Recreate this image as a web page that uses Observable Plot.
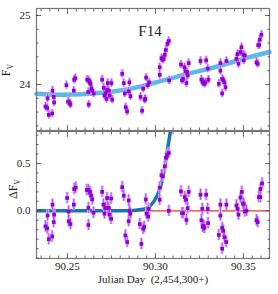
<!DOCTYPE html>
<html><head><meta charset="utf-8">
<script src="https://cdn.jsdelivr.net/npm/d3@7"></script>
<script src="https://cdn.jsdelivr.net/npm/@observablehq/plot@0.6"></script>
<style>
body{margin:0;background:#fff}
#chart{position:relative;width:278px;height:294px;overflow:hidden}
#chart svg{position:absolute;left:0}
</style></head><body><div id="chart"></div>
<script>
// ---- data ----
const topX = [90.2375,90.2385,90.2387,90.2394,90.2413,90.2415,90.2422,90.2424,
  90.2494,90.2504,90.2513,90.2517,90.2536,90.2538,90.2545,
  90.2612,90.2618,90.2621,90.2621,90.2627,90.2631,90.2636,90.2640,90.2649,
  90.2697,90.2706,90.2710,90.2716,90.2722,90.2726,90.2729,90.2735,90.2740,90.2750,90.2754,
  90.2811,90.2820,90.2826,90.2831,90.2839,90.2848,90.2852,90.2858,
  90.2915,90.2924,90.2930,90.2938,90.2943,90.2947,90.2956,90.2964,
  90.3024,90.3024,90.3034,90.3040,90.3047,90.3053,90.3059,90.3068,90.3076,90.3078,
  90.3145,90.3151,90.3157,90.3165,90.3170,90.3176,90.3180,90.3183,90.3189,
  90.3256,90.3261,90.3268,90.3274,90.3278,90.3284,90.3288,90.3297,90.3301,
  90.3360,90.3369,90.3369,90.3379,90.3379,90.3385,90.3392,90.3398,90.3403,
  90.3460,90.3466,90.3472,90.3483,90.3489,90.3499,90.3502,90.3508,
  90.3574,90.3581,90.3584,90.3589,90.3593,90.3602];
const topF = [23.68,23.66,23.80,23.56,23.58,23.91,23.82,23.74,
  23.99,23.75,23.73,23.71,23.91,24.07,24.09,
  24.07,23.89,24.06,23.71,24.03,24.01,23.94,23.91,23.87,
  24.07,23.95,23.84,23.87,23.79,23.92,24.02,23.91,23.84,24.02,23.78,
  24.155,24.02,23.87,23.67,23.61,23.90,24.03,23.83,
  23.82,23.62,23.94,23.78,23.79,24.10,23.99,24.03,
  24.25,24.14,24.38,24.36,24.37,24.43,24.50,24.59,24.63,24.06,
  24.29,24.06,24.08,24.25,24.19,24.02,24.18,24.13,24.31,
  24.34,24.07,24.03,24.03,24.01,24.03,24.35,24.23,24.07,
  24.01,24.20,24.31,24.08,23.87,24.06,24.03,23.96,24.34,
  24.37,24.44,24.30,24.47,24.54,24.43,24.35,24.42,
  24.32,24.30,24.57,24.57,24.65,24.72];

const botX = [90.2375,90.2385,90.2387,90.2394,90.2413,90.2415,90.2422,90.2424,
  90.2498,90.2507,90.2507,90.2517,90.2536,90.2538,90.2547,
  90.2610,90.2619,90.2628,90.2634,90.2641,90.2619,90.2619,90.2648,
  90.2697,90.2704,90.2710,90.2716,90.2725,90.2729,90.2735,90.2738,90.2748,90.2748,
  90.2811,90.2820,90.2829,90.2839,90.2848,90.2852,90.2848,90.2857,
  90.2911,90.2920,90.2930,90.2936,90.2945,90.2949,90.2959,90.2962,
  90.3024,90.3024,90.3034,90.3041,90.3053,90.3060,90.3066,90.3076,90.3076,
  90.3145,90.3151,90.3157,90.3166,90.3174,90.3176,90.3183,90.3189,
  90.3256,90.3261,90.3266,90.3268,90.3274,90.3278,90.3288,90.3297,90.3299,
  90.3360,90.3369,90.3369,90.3379,90.3385,90.3379,90.3392,90.3402,90.3403,
  90.3460,90.3467,90.3472,90.3483,90.3491,90.3497,90.3502,90.3508,90.3517,
  90.3574,90.3581,90.3587,90.3596,90.3596,90.3606];
const botDF = [-0.165,-0.185,-0.05,-0.30,-0.27,0.065,-0.12,-0.04,
  0.135,-0.007,-0.11,-0.14,0.065,0.23,0.245,
  0.22,0.22,0.20,0.16,0.12,0.03,-0.15,-0.02,
  0.20,0.065,-0.03,0.03,0.135,0.03,0.03,-0.04,0.13,-0.085,
  0.25,0.16,-0.26,-0.33,0.11,0.0,-0.11,-0.03,
  -0.14,-0.35,-0.19,-0.17,0.12,-0.03,-0.06,0.02,
  0.245,0.117,0.375,0.365,0.47,0.56,0.59,0.61,0.0,
  0.205,-0.025,-0.025,0.145,0.117,-0.096,0.028,0.20,
  0.17,-0.10,0.02,-0.17,-0.16,-0.18,0.17,0.02,-0.13,
  -0.255,0.065,-0.05,-0.18,-0.21,-0.40,-0.28,-0.33,0.065,
  0.056,0.02,-0.04,0.14,0.20,0.075,0.075,-0.007,0.0,
  -0.10,-0.12,0.145,0.145,0.23,0.29];
const errBar = 0.06;

const fitX = [90.2324,90.240,90.248,90.258,90.267,90.277,90.286,90.2972,90.3161,90.3351,90.354,90.3648];
const fitF = [23.865,23.855,23.85,23.857,23.875,23.903,23.94,24.01,24.14,24.26,24.40,24.47];

const expX = [90.2324,90.275,90.2877,90.292,90.2953,90.2991,90.3019,90.3038,90.3057,90.3070,90.3085,90.3095];
const expDF = [0,0,0.004,0.013,0.03,0.10,0.20,0.32,0.51,0.67,0.84,0.98];

const xMajorTicks = [90.25,90.30,90.35];
const xMinorTicks = [90.235,90.24,90.245,90.255,90.26,90.265,90.27,90.275,90.28,90.285,90.29,90.295,
  90.305,90.31,90.315,90.32,90.325,90.33,90.335,90.34,90.345,90.355,90.36];
const topYMajor = [24,25];
const topYMinor = [23.4,23.6,23.8,24.2,24.4,24.6,24.8,25.0];
const botYMajor = [0.0,0.5];
const botYMinor = [-0.5,-0.4,-0.3,-0.2,-0.1,0.1,0.2,0.3,0.4,0.6,0.7,0.8];

const panelLabel = "F14";
const xTitle = "Julian Day  (2,454,300+)";

// ---- build ----
const topPts = topX.map((x,i)=>({x, y: topF[i]}));
const botPts = botX.map((x,i)=>({x, y: botDF[i]}));
const fitPts = fitX.map((x,i)=>({x, y: fitF[i]}));
const expPts = expX.map((x,i)=>({x, y: expDF[i]}));

const font = "'Liberation Serif','Times New Roman',serif";
const xDomain = [90.2324, 90.3648];
const tickColor = "#444";

function edgeTicks(yMinor, yMajor) {
  const st = {stroke: tickColor, strokeWidth: 0.8, tickFormat: () => "", label: null};
  return [
    Plot.axisX({anchor: "bottom", ticks: xMinorTicks, tickSize: -2.5, ...st}),
    Plot.axisX({anchor: "bottom", ticks: xMajorTicks, tickSize: -5, ...st}),
    Plot.axisX({anchor: "top", ticks: xMinorTicks, tickSize: -2.5, ...st}),
    Plot.axisX({anchor: "top", ticks: xMajorTicks, tickSize: -5, ...st}),
    Plot.axisY({anchor: "left", ticks: yMinor, tickSize: -2.5, ...st}),
    Plot.axisY({anchor: "left", ticks: yMajor, tickSize: -5, ...st}),
    Plot.axisY({anchor: "right", ticks: yMinor, tickSize: -2.5, ...st}),
    Plot.axisY({anchor: "right", ticks: yMajor, tickSize: -5, ...st})
  ];
}

function points(data) {
  return [
    Plot.ruleX(data, {x: "x", y1: d => d.y - errBar, y2: d => d.y + errBar, stroke: "#dcb8f6", strokeWidth: 3}),
    Plot.ruleX(data, {x: "x", y1: d => d.y - errBar, y2: d => d.y + errBar, stroke: "#a33bea", strokeWidth: 1, strokeOpacity: 0.8}),
    Plot.dot(data, {x: "x", y: "y", r: 2.1, symbol: "square", fill: "#9300d6"})
  ];
}

const topPlot = Plot.plot({
  width: 278, height: 131,
  marginTop: 8, marginBottom: 1, marginLeft: 36, marginRight: 9,
  style: {fontFamily: font, fontSize: "11px", background: "transparent", color: "#222"},
  x: {domain: xDomain},
  y: {domain: [23.333, 25.101]},
  marks: [
    Plot.line(fitPts, {x: "x", y: "y", stroke: "#5fb7ea", strokeWidth: 4.5, curve: "monotone-x"}),
    ...points(topPts),
    Plot.frame({stroke: "#777", strokeWidth: 1.2}),
    ...edgeTicks(topYMinor, topYMajor),
    Plot.axisY({anchor: "left", ticks: topYMajor, tickSize: 0, tickPadding: 6, tickFormat: d3.format("d"), label: null, fontSize: 11}),
    Plot.text([panelLabel], {frameAnchor: "top", dx: -3, dy: 17, text: d => d, fontSize: 15, fill: "#222"})
  ]
});

const botPlot = Plot.plot({
  width: 278, height: 164,
  marginTop: 1, marginBottom: 36, marginLeft: 36, marginRight: 9,
  style: {fontFamily: font, fontSize: "11px", background: "transparent", color: "#222"},
  x: {domain: xDomain},
  y: {domain: [-0.504, 0.838]},
  marks: [
    Plot.ruleY([0], {stroke: "#e8332a", strokeWidth: 1.3}),
    Plot.line(expPts, {x: "x", y: "y", stroke: "#1d72b0", strokeWidth: 3.5, curve: "monotone-x", clip: true}),
    ...points(botPts),
    Plot.frame({stroke: "#777", strokeWidth: 1.2}),
    ...edgeTicks(botYMinor, botYMajor),
    Plot.axisY({anchor: "left", ticks: botYMajor, tickSize: 0, tickPadding: 6, tickFormat: d3.format(".1f"), label: null, fontSize: 11}),
    Plot.axisX({anchor: "bottom", ticks: xMajorTicks, tickSize: 0, tickPadding: 4, tickFormat: d3.format(".2f"), label: null, fontSize: 11}),
    Plot.text([xTitle], {frameAnchor: "bottom", dy: 24, text: d => d, fontSize: 11, fill: "#222"})
  ]
});

const chart = document.getElementById("chart");
topPlot.style.top = "0px";
botPlot.style.top = "130px";
chart.appendChild(topPlot);
chart.appendChild(botPlot);

// rotated y titles with subscripts
function yTitle(svg, x, y, prefix) {
  const t = d3.select(svg).append("text")
    .attr("transform", `translate(${x},${y}) rotate(-90)`)
    .attr("text-anchor", "middle")
    .attr("font-family", font)
    .attr("font-size", 12)
    .attr("fill", "#222");
  t.append("tspan").text(prefix + "F");
  t.append("tspan").attr("font-size", 8).attr("dy", 3).text("V");
}
yTitle(topPlot, 10, 70, "");
yTitle(botPlot, 17, 59, "\u0394");
</script></body></html>
